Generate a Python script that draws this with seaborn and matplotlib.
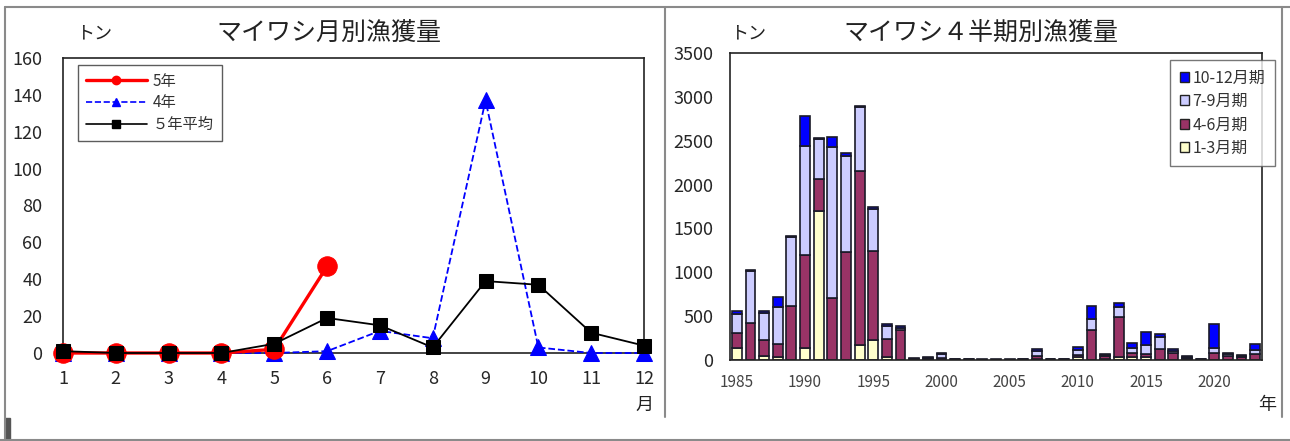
import numpy as np
import pandas as pd
import matplotlib
matplotlib.use("Agg")
import matplotlib.pyplot as plt
import seaborn as sns
from matplotlib.lines import Line2D
from matplotlib.patches import Patch, Rectangle

# monthly catch (t)
months = list(range(1, 13))
catch_r5 = [0, 0, 0, 0, 2, 47]
catch_r4 = [0, 0, 0, 0, 0, 1, 12, 8, 137, 3, 0, 0]
catch_avg5 = [1, 0, 0, 0, 5, 19, 15, 3, 39, 37, 11, 4]

# quarterly catch (t), 1985-2023
years = list(range(1985, 2024))
q1 = [133, 5, 50, 38, 5, 133, 1699, 0, 0, 171, 228, 30, 5, 3, 3, 5, 2, 2, 1, 1,
      1, 2, 15, 2, 1, 35, 0, 13, 38, 30, 30, 0, 0, 9, 2, 0, 5, 5, 0]
q2 = [171, 420, 179, 141, 610, 1064, 361, 711, 1227, 1987, 1018, 205, 342, 8, 10, 20, 3, 3, 2, 2,
      2, 3, 30, 3, 2, 20, 342, 30, 456, 46, 38, 122, 76, 15, 3, 76, 45, 30, 68]
q3 = [220, 593, 312, 430, 790, 1243, 460, 1714, 1098, 722, 471, 152, 15, 5, 15, 45, 3, 3, 2, 2,
      2, 3, 55, 3, 3, 60, 122, 10, 114, 65, 103, 144, 27, 15, 3, 57, 14, 10, 46]
q4 = [38, 5, 20, 114, 10, 346, 10, 122, 38, 15, 30, 20, 20, 4, 8, 15, 2, 2, 1, 1,
      1, 2, 25, 2, 2, 30, 156, 15, 38, 57, 152, 30, 23, 10, 3, 277, 20, 12, 68]
quarter_labels = ["10-12月期", "7-9月期", "4-6月期", "1-3月期"]
quarter_colors = ["#0000FF", "#CCCCFF", "#993366", "#FFFFCC"]

sns.set_style("white")
plt.rcParams["font.family"] = ["Noto Sans CJK JP", "DejaVu Sans"]

W, H = 1290, 441
fig = plt.figure(figsize=(12.9, 4.41), dpi=100)

# ---- left: monthly lines ----
ax1 = fig.add_axes([63 / W, 1 - 353 / H, 581 / W, 295 / H])
sns.lineplot(x=months, y=catch_r4, ax=ax1, color="#0000FF", lw=1.3, linestyle="--",
             marker="^", markersize=12, markeredgecolor="#0000FF", clip_on=False, zorder=3)
sns.lineplot(x=months[:len(catch_r5)], y=catch_r5, ax=ax1, color="#FF0000", lw=2.4,
             marker="o", markersize=14, markeredgecolor="#FF0000", clip_on=False, zorder=4)
sns.lineplot(x=months, y=catch_avg5, ax=ax1, color="black", lw=1.3,
             marker="s", markersize=10, markeredgecolor="black", clip_on=False, zorder=5)
ax1.set_xlim(1, 12)
ax1.set_ylim(0, 160)
ax1.set_xticks(months)
ax1.set_yticks(range(0, 161, 20))
ax1.tick_params(axis="both", direction="in", length=5, labelsize=13, color="#333333")
ax1.tick_params(axis="x", pad=12)
ax1.tick_params(axis="y", pad=15)
for s in ax1.spines.values():
    s.set_color("#222222")
    s.set_linewidth(1.2)
ax1.set_xlabel("")
ax1.set_ylabel("")

h1 = [Line2D([], [], color="#FF0000", lw=2.4, marker="o", markersize=6),
      Line2D([], [], color="#0000FF", lw=1.2, linestyle="--", marker="^", markersize=6),
      Line2D([], [], color="black", lw=1.2, marker="s", markersize=6)]
leg1 = ax1.legend(h1, ["5年", "4年", "５年平均"], loc="upper left",
                  bbox_to_anchor=(0.026, 0.976), borderaxespad=0, fontsize=11,
                  frameon=True, fancybox=False, edgecolor="#333333", handlelength=4.0,
                  labelspacing=0.3, borderpad=0.5, handletextpad=0.4)
leg1.get_frame().set_linewidth(1.0)
for t in leg1.get_texts():
    t.set_color("#333333")

fig.text(94 / W, 1 - 33 / H, "トン", ha="center", va="center", fontsize=13, color="#222222")
fig.text(329 / W, 1 - 33 / H, "マイワシ月別漁獲量", ha="center", va="center", fontsize=18, color="#222222")
fig.text(644 / W, 1 - 405 / H, "月", ha="center", va="center", fontsize=13, color="#222222")

# ---- right: quarterly stacked bars ----
ax2 = fig.add_axes([730 / W, 1 - 360 / H, 532 / W, 307 / H])
df = pd.DataFrame({
    "year": years * 4,
    "quarter": np.repeat(quarter_labels, len(years)),
    "catch": q4 + q3 + q2 + q1,
})
sns.histplot(data=df, x="year", weights="catch", hue="quarter", hue_order=quarter_labels,
             palette=dict(zip(quarter_labels, quarter_colors)), multiple="stack",
             discrete=True, shrink=0.72, alpha=1, edgecolor="#1a1a28", linewidth=1.2,
             legend=False, ax=ax2)
ax2.set_xlim(1984.5, 2023.5)
ax2.set_ylim(0, 3500)
ax2.set_xticks(range(1985, 2021, 5))
ax2.set_xticks(years, minor=True)
ax2.set_yticks(range(0, 3501, 500))
ax2.tick_params(axis="y", direction="in", length=5, labelsize=13, pad=12, color="#333333")
ax2.tick_params(axis="x", which="major", direction="in", length=4, labelsize=11,
                pad=10, labelcolor="#444444", color="#333333")
ax2.tick_params(axis="x", which="minor", direction="in", length=3, color="#333333")
for s in ax2.spines.values():
    s.set_color("#222222")
    s.set_linewidth(1.2)
ax2.set_xlabel("")
ax2.set_ylabel("")

h2 = [Patch(facecolor=c, edgecolor="#222222", lw=1.0) for c in quarter_colors]
leg2 = ax2.legend(h2, quarter_labels, loc="upper right", bbox_to_anchor=(1.024, 0.977),
                  borderaxespad=0, fontsize=11.5, frameon=True, fancybox=False,
                  edgecolor="#555555", handlelength=0.6, handleheight=0.6,
                  handletextpad=0.2, labelspacing=0.4, borderpad=0.6)
leg2.get_frame().set_linewidth(1.0)
for t in leg2.get_texts():
    t.set_color("#333333")

fig.text(748 / W, 1 - 33 / H, "トン", ha="center", va="center", fontsize=13, color="#222222")
fig.text(981 / W, 1 - 33 / H, "マイワシ４半期別漁獲量", ha="center", va="center", fontsize=18, color="#222222")
fig.text(1267 / W, 1 - 405 / H, "年", ha="center", va="center", fontsize=13, color="#222222")

# ---- panel borders ----
border = dict(transform=fig.transFigure, color="#8a8a8a", lw=1.5)
fig.add_artist(Line2D([5 / W, 1], [1 - 7 / H, 1 - 7 / H], **border))
fig.add_artist(Line2D([5 / W, 5 / W], [1 - 7 / H, 1 - 440 / H], **border))
fig.add_artist(Line2D([0, 1], [1 - 440 / H, 1 - 440 / H], **border))
fig.add_artist(Line2D([665 / W, 665 / W], [1 - 7 / H, 1 - 417 / H], **border))
fig.add_artist(Line2D([1282 / W, 1282 / W], [1 - 7 / H, 1 - 417 / H], **border))
fig.add_artist(Rectangle((5 / W, 1 - 440 / H), 5 / W, 22 / H, transform=fig.transFigure,
                         color="#555555"))

fig.savefig("out.png", dpi=100)
